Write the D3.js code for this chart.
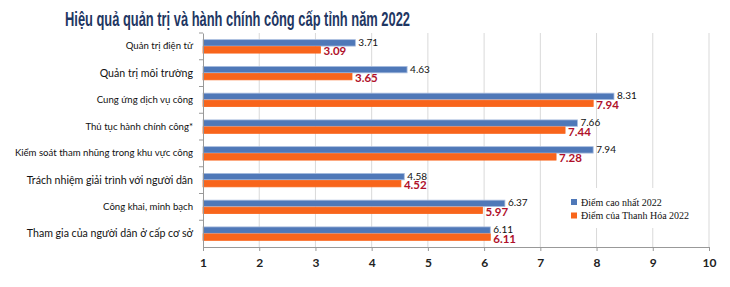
<!DOCTYPE html>
<html>
<head>
<meta charset="utf-8">
<script src="https://cdn.jsdelivr.net/npm/d3@7"></script>
<style>
  body { margin: 0; background: #fff; }
</style>
</head>
<body>
<script>
// chart data
const categories = [
  "Quản trị điện tử",
  "Quản trị môi trường",
  "Cung ứng dịch vụ công",
  "Thủ tục hành chính công*",
  "Kiểm soát tham nhũng trong khu vực công",
  "Trách nhiệm giải trình với người dân",
  "Công khai, minh bạch",
  "Tham gia của người dân ở cấp cơ sở"
];
const highest2022 = [3.71, 4.63, 8.31, 7.66, 7.94, 4.58, 6.37, 6.11];
const thanhHoa2022 = [3.09, 3.65, 7.94, 7.44, 7.28, 4.52, 5.97, 6.11];
const seriesNames = ["Điểm cao nhất 2022", "Điểm của Thanh Hóa 2022"];
const xTicks = [1, 2, 3, 4, 5, 6, 7, 8, 9, 10];
const title = "Hiệu quả quản trị và hành chính công cấp tỉnh năm 2022";

const W = 730, H = 287;
const mLeft = 203, mRight = 709, mTop = 33, mBottom = 247;
// the source uses a slightly bigger font for a few category labels
const bigLabels = new Set(["Quản trị môi trường", "Trách nhiệm giải trình với người dân", "Tham gia của người dân ở cấp cơ sở"]);

const svg = d3.select("body").append("svg")
  .attr("width", W)
  .attr("height", H);

svg.append("text")
  .attr("x", 65).attr("y", 26)
  .attr("font-family", "Liberation Sans Narrow, Arial Narrow, Liberation Sans, sans-serif")
  .attr("font-weight", "bold")
  .attr("font-size", "20px")
  .attr("fill", "#1f3763")
  .attr("textLength", 345)
  .attr("lengthAdjust", "spacingAndGlyphs")
  .text(title);

const x = d3.scaleLinear().domain([1, 10]).range([mLeft, mRight]);
const y = d3.scaleBand().domain(categories).range([mTop, mBottom]);
const inner = d3.scaleBand().domain([0, 1]).range([0, y.bandwidth()]).paddingOuter(0.95).paddingInner(0.08);

// gridlines
svg.append("g")
  .selectAll("line")
  .data(xTicks.slice(1))
  .enter()
  .append("line")
  .attr("x1", d => x(d)).attr("x2", d => x(d))
  .attr("y1", mTop).attr("y2", mBottom)
  .attr("stroke", "#d9d9d9")
  .attr("stroke-width", 1);

// bars
const series = [highest2022, thanhHoa2022];
const fills = ["#4f78b8", "#f8651c"];
const strokes = ["#a9bddf", "#f8651c"];

series.forEach((vals, s) => {
  svg.append("g")
    .selectAll("rect")
    .data(vals)
    .enter()
    .append("rect")
    .attr("x", x(1))
    .attr("y", (d, i) => y(categories[i]) + inner(s))
    .attr("width", d => x(d) - x(1))
    .attr("height", inner.bandwidth())
    .attr("fill", fills[s])
    .attr("stroke", strokes[s])
    .attr("stroke-width", 0.8);
});

// value labels
svg.append("g")
  .selectAll("text")
  .data(highest2022)
  .enter()
  .append("text")
  .attr("x", d => x(d) + 3)
  .attr("y", (d, i) => y(categories[i]) + inner(0) + inner.bandwidth() / 2 - 0.5)
  .attr("dy", "0.35em")
  .attr("font-family", "Lato, Open Sans, sans-serif")
  .attr("font-size", "10px")
  .attr("fill", "#111")
  .text(d => d.toFixed(2));

svg.append("g")
  .selectAll("text")
  .data(thanhHoa2022)
  .enter()
  .append("text")
  .attr("x", d => x(d) + 3)
  .attr("y", (d, i) => y(categories[i]) + inner(1) + inner.bandwidth() / 2 + 1.5)
  .attr("dy", "0.35em")
  .attr("font-family", "Lato, Open Sans, sans-serif")
  .attr("font-weight", "bold")
  .attr("font-size", "11.5px")
  .attr("fill", "#b0102a")
  .text(d => d.toFixed(2));

// axes
const xAxis = svg.append("g")
  .attr("transform", `translate(0,${mBottom})`)
  .call(d3.axisBottom(x).tickValues(xTicks).tickSize(4).tickFormat(d3.format("d")));
xAxis.select(".domain").attr("stroke", "#999");
xAxis.selectAll(".tick line").attr("stroke", "#999");
xAxis.selectAll(".tick text")
  .attr("font-family", "Lato, Open Sans, sans-serif")
  .attr("font-weight", "bold")
  .attr("font-size", "12px")
  .attr("fill", "#222")
  .attr("dy", "1.1em");

const yAxis = svg.append("g")
  .attr("transform", `translate(${mLeft},0)`)
  .call(d3.axisLeft(y).tickSize(0).tickPadding(10));
yAxis.select(".domain").attr("stroke", "#999");
yAxis.selectAll(".tick text")
  .attr("font-family", "Lato, Open Sans, sans-serif")
  .attr("font-size", d => bigLabels.has(d) ? "10.6px" : "9.6px")
  .attr("fill", "#111");

// small ticks between categories
yAxis.append("g")
  .selectAll("line")
  .data(categories)
  .enter()
  .append("line")
  .attr("x1", -4).attr("x2", 0)
  .attr("y1", d => y(d)).attr("y2", d => y(d))
  .attr("stroke", "#999");

// legend
const legend = svg.append("g").attr("transform", "translate(563,188)");
legend.append("rect")
  .attr("width", 125).attr("height", 40)
  .attr("fill", "#fff");
seriesNames.forEach((name, i) => {
  legend.append("rect")
    .attr("x", 8).attr("y", 11 + i * 13.5)
    .attr("width", 6).attr("height", 6)
    .attr("fill", fills[i]);
  legend.append("text")
    .attr("x", 18).attr("y", 14 + i * 13.5)
    .attr("dy", "0.35em")
    .attr("font-family", "Liberation Serif, Times New Roman, serif")
    .attr("font-size", "10px")
    .attr("fill", "#111")
    .text(name);
});
</script>
</body>
</html>
